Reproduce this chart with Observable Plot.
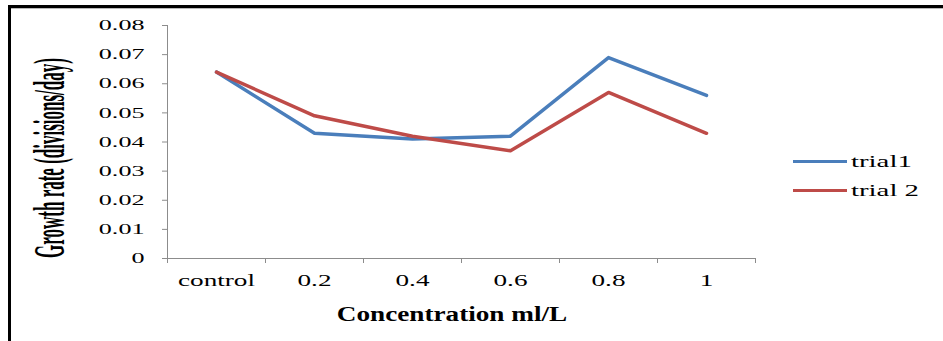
<!DOCTYPE html>
<html>
<head>
<meta charset="utf-8">
<script src="https://cdn.jsdelivr.net/npm/d3@7"></script>
<script src="https://cdn.jsdelivr.net/npm/@observablehq/plot@0.6"></script>
<style>
  html, body { margin: 0; padding: 0; background: #fff; }
  #wrap { position: relative; width: 943px; height: 341px; overflow: hidden; background: #fff;
          font-family: "Liberation Serif", "Times New Roman", serif; color: #000; }
  #wrap svg { position: absolute; left: 0; top: 0; }
  .border { position: absolute; background: #000; }
  .ytitle { position: absolute; white-space: nowrap; font-weight: bold; font-size: 17px; line-height: 17px;
            transform: translate(-50%, -50%) rotate(-90deg) scale(1, 2.6); }
  .xtitle { position: absolute; white-space: nowrap; font-weight: bold; font-size: 20px; line-height: 20px;
            transform: translate(-50%, 0) scale(1.36, 1); }
  .legend-swatch { position: absolute; height: 3px; width: 54px; }
  .legend-label { position: absolute; white-space: nowrap; font-size: 16px; line-height: 16px;
                  transform-origin: 0 50%; transform: scale(1.8, 1); }
</style>
</head>
<body>
<div id="wrap"></div>
<script>
// ---- data ----
const categories = ["control", "0.2", "0.4", "0.6", "0.8", "1"];
const trial1 = [0.064, 0.043, 0.041, 0.042, 0.069, 0.056];
const trial2 = [0.064, 0.049, 0.042, 0.037, 0.057, 0.043];
const seriesNames = ["trial1", "trial 2"];
const seriesColors = ["#4a7ebb", "#be4b48"];
const yTicks = [0, 0.01, 0.02, 0.03, 0.04, 0.05, 0.06, 0.07, 0.08];
const xTitle = "Concentration ml/L";
const yTitle = "Growth rate (divisions/day)";

// ---- layout ----
const W = 943, H = 341, mL = 167, mR = 188, mT = 25, mB = 83;
const step = (W - mL - mR) / categories.length;
const axisColor = "#8c8c8c";

const rows = categories.flatMap((c, i) => [
  {cat: c, value: trial1[i], series: seriesNames[0]},
  {cat: c, value: trial2[i], series: seriesNames[1]}
]);

const chart = Plot.plot({
  width: W, height: H,
  marginLeft: mL, marginRight: mR, marginTop: mT, marginBottom: mB,
  style: {fontFamily: "'Liberation Serif', 'Times New Roman', serif", background: "transparent", overflow: "visible"},
  x: {type: "band", domain: categories, padding: 0},
  y: {domain: [0, 0.08]},
  color: {domain: seriesNames, range: seriesColors},
  marks: [
    Plot.ruleY([0], {stroke: axisColor}),
    Plot.ruleX([categories[0]], {x: d => d, y1: 0, y2: 0.08, dx: -step / 2, stroke: axisColor}),
    Plot.ruleX(categories, {x: d => d, y1: 0, y2: 0, insetBottom: -5, dx: -step / 2, stroke: axisColor}),
    Plot.ruleX([categories[categories.length - 1]], {x: d => d, y1: 0, y2: 0, insetBottom: -5, dx: step / 2, stroke: axisColor}),
    Plot.axisY({ticks: yTicks, tickSize: 5, tickPadding: 18, stroke: axisColor, fill: "#000",
                fontSize: 14.5, tickFormat: d => d === 0 ? "0" : d.toFixed(2), label: null}),
    Plot.axisX({tickSize: 0, tickPadding: 16, fill: "#000", fontSize: 16, label: null}),
    Plot.line(rows, {x: "cat", y: "value", z: "series", stroke: "series", strokeWidth: 3.5,
                     strokeLinejoin: "round", strokeLinecap: "round"})
  ]
});

// widen the tick labels horizontally around their anchor point (as in the reference scan)
function stretchLabels(selector, sx) {
  chart.querySelectorAll(selector + " text").forEach(t => {
    const tr = t.getAttribute("transform");
    if (tr) {
      t.setAttribute("transform", tr + ` scale(${sx},1)`);
    } else {
      const x = +t.getAttribute("x") || 0, y = +t.getAttribute("y") || 0;
      t.setAttribute("transform", `translate(${x},${y}) scale(${sx},1) translate(${-x},${-y})`);
    }
  });
}
stretchLabels('g[aria-label="y-axis tick label"]', 1.8);
stretchLabels('g[aria-label="x-axis tick label"]', 1.7);

const wrap = document.getElementById("wrap");
wrap.appendChild(chart);

function addDiv(cls, css, text) {
  const d = document.createElement("div");
  d.className = cls;
  Object.assign(d.style, css);
  if (text != null) d.textContent = text;
  wrap.appendChild(d);
  return d;
}
// frame of the scanned figure
addDiv("border", {left: "8px", top: "5px", width: "935px", height: "3px"});
addDiv("border", {left: "8px", top: "8px", width: "935px", height: "1px", background: "#b8b8b8"});
addDiv("border", {left: "8px", top: "5px", width: "3px", height: "336px"});

// axis titles
addDiv("ytitle", {left: "49.5px", top: "157.5px"}, yTitle);
addDiv("xtitle", {left: "452px", top: "303.5px"}, xTitle);

// legend
seriesNames.forEach((name, i) => {
  const y = 161.7 + i * 29;
  addDiv("legend-swatch", {left: "793px", top: (y - 1.5) + "px", background: seriesColors[i]});
  addDiv("legend-label", {left: "851px", top: (y - 7.5) + "px"}, name);
});
</script>
</body>
</html>
